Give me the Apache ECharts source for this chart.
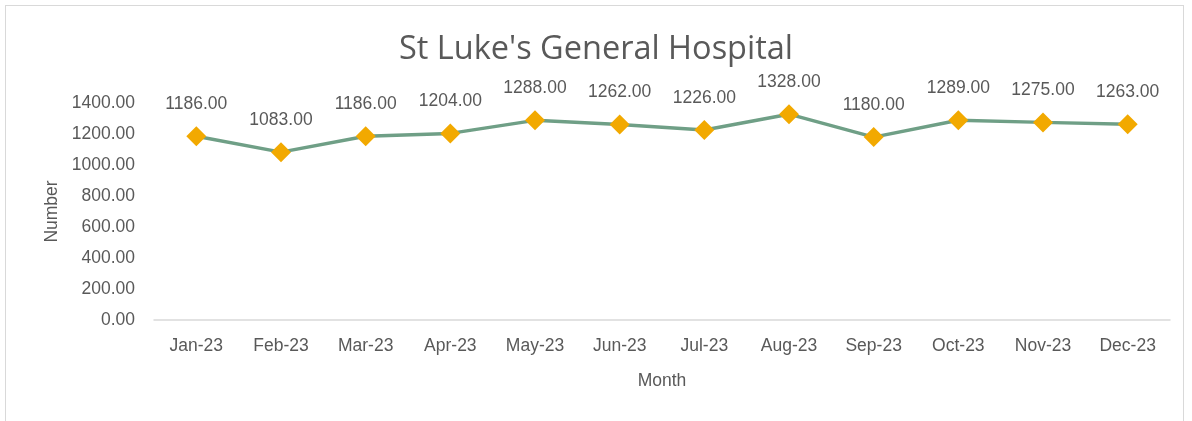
<!DOCTYPE html>
<html>
<head>
<meta charset="utf-8">
<script src="https://cdn.jsdelivr.net/npm/echarts@6/dist/echarts.min.js"></script>
<style>
  html, body { margin: 0; padding: 0; background: #fff; }
  #frame { position: absolute; left: 5px; top: 5px; width: 1179px; height: 430px; border: 1px solid #d9d9d9; box-sizing: border-box; }
  #chart { position: absolute; left: 0; top: 0; width: 1192px; height: 421px; }
</style>
</head>
<body>
<div id="frame"></div>
<div id="chart"></div>
<script>
const months = ['Jan-23', 'Feb-23', 'Mar-23', 'Apr-23', 'May-23', 'Jun-23', 'Jul-23', 'Aug-23', 'Sep-23', 'Oct-23', 'Nov-23', 'Dec-23']
const patients = [1186, 1083, 1186, 1204, 1288, 1262, 1226, 1328, 1180, 1289, 1275, 1263]

const labelFont = "'Liberation Sans', Arial, sans-serif"
const textColor = '#595959'

let myChart = echarts.init(document.getElementById('chart'))
myChart.setOption({
    animation: false,
    title: {
        text: "St Luke's General Hospital",
        left: 'center',
        top: 28,
        textStyle: {
            fontFamily: "'Open Sans', sans-serif",
            fontWeight: 'normal',
            fontSize: 32.5,
            color: textColor
        }
    },
    grid: {
        left: 154,
        right: 22,
        top: 103,
        bottom: 101
    },
    xAxis: {
        type: 'category',
        data: months,
        name: 'Month',
        nameLocation: 'middle',
        nameGap: 52,
        nameTextStyle: { fontFamily: labelFont, fontSize: 17.5, color: textColor },
        axisLine: { lineStyle: { color: '#d9d9d9', width: 1.5 } },
        axisTick: { show: false },
        axisLabel: { fontFamily: labelFont, fontSize: 17.5, color: textColor, margin: 17 }
    },
    yAxis: {
        type: 'value',
        min: 0,
        max: 1400,
        interval: 200,
        name: 'Number',
        nameLocation: 'middle',
        nameGap: 90,
        nameTextStyle: { fontFamily: labelFont, fontSize: 17.5, color: textColor },
        axisLine: { show: false },
        axisTick: { show: false },
        splitLine: { show: false },
        axisLabel: {
            fontFamily: labelFont,
            fontSize: 17.5,
            color: textColor,
            margin: 19,
            formatter: v => v.toFixed(2)
        }
    },
    series: [{
        name: 'Number',
        type: 'line',
        data: patients,
        clip: false,
        symbol: 'diamond',
        symbolSize: 20,
        lineStyle: { color: '#6f9f86', width: 3.5 },
        itemStyle: { color: '#f2a900' },
        label: {
            show: true,
            position: 'top',
            distance: 13,
            fontFamily: labelFont,
            fontSize: 17.5,
            color: textColor,
            formatter: p => p.value.toFixed(2)
        }
    }]
})
</script>
</body>
</html>
